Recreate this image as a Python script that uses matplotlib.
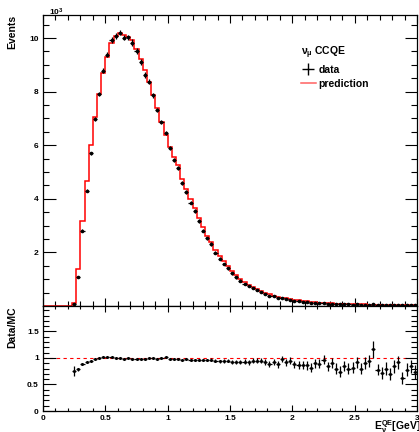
import numpy as np
import matplotlib.pyplot as plt
from matplotlib.lines import Line2D

plt.rcParams['font.family'] = ['Liberation Sans', 'DejaVu Sans']
plt.rcParams['font.weight'] = 'bold'
plt.rcParams['mathtext.fontset'] = 'custom'
plt.rcParams['mathtext.rm'] = 'Liberation Sans:bold'
plt.rcParams['mathtext.it'] = 'Liberation Sans:bold'
plt.rcParams['mathtext.bf'] = 'Liberation Sans:bold'

# -----------------------------
# values (90 bins of 1/30 GeV, 0 - 3 GeV)
# -----------------------------
edges = np.linspace(0, 3, 91)

# prediction in units of 10^3 events
prediction = [
    0, 0, 0, 0, 0, 0, 0, 0.12, 1.37, 3.19,
    4.67, 6.00, 7.04, 7.91, 8.69, 9.29, 9.83, 10.08, 10.20, 10.12,
    10.03, 9.93, 9.60, 9.20, 8.80, 8.37, 7.86, 7.39, 6.86, 6.40,
    5.94, 5.55, 5.25, 4.75, 4.35, 3.98, 3.64, 3.30, 2.93, 2.63,
    2.38, 2.10, 1.87, 1.67, 1.48, 1.31, 1.15, 1.02, 0.90, 0.80,
    0.71, 0.63, 0.56, 0.50, 0.44, 0.39, 0.35, 0.31, 0.28, 0.25,
    0.23, 0.21, 0.19, 0.17, 0.155, 0.14, 0.125, 0.115, 0.105, 0.095,
    0.088, 0.082, 0.077, 0.072, 0.067, 0.063, 0.060, 0.057, 0.054, 0.052,
    0.050, 0.048, 0.046, 0.044, 0.042, 0.041, 0.040, 0.039, 0.038, 0.037,
]

# data / prediction (empty bins -> nan)
ratio = [
    np.nan, np.nan, np.nan, np.nan, np.nan, np.nan, np.nan, 0.75, 0.79, 0.88,
    0.92, 0.95, 0.99, 1.00, 1.01, 1.01, 1.01, 1.00, 1.00, 0.99,
    1.00, 0.99, 0.99, 0.99, 0.98, 1.00, 1.00, 0.99, 1.00, 1.01,
    0.99, 0.98, 0.98, 0.97, 0.98, 0.97, 0.97, 0.96, 0.96, 0.96,
    0.97, 0.95, 0.94, 0.94, 0.95, 0.93, 0.93, 0.93, 0.93, 0.92,
    0.95, 0.95, 0.95, 0.93, 0.89, 0.92, 0.88, 0.98, 0.92, 0.95,
    0.88, 0.87, 0.87, 0.86, 0.82, 0.90, 0.89, 0.97, 0.84, 0.91,
    0.80, 0.74, 0.85, 0.80, 0.82, 0.92, 0.80, 0.91, 0.94, 1.16,
    0.78, 0.72, 0.80, 0.70, 0.84, 0.92, 0.62, 0.78, 0.84, 0.74,
]

ratio_err = [
    0, 0, 0, 0, 0, 0, 0, 0.09, 0.03, 0.02,
    0.012, 0.01, 0.01, 0.01, 0.01, 0.01, 0.01, 0.01, 0.01, 0.01,
    0.01, 0.012, 0.012, 0.012, 0.012, 0.012, 0.012, 0.012, 0.012, 0.012,
    0.013, 0.014, 0.015, 0.016, 0.017, 0.018, 0.02, 0.021, 0.022, 0.024,
    0.026, 0.028, 0.03, 0.032, 0.034, 0.036, 0.038, 0.04, 0.042, 0.045,
    0.048, 0.05, 0.052, 0.055, 0.058, 0.06, 0.062, 0.065, 0.068, 0.07,
    0.072, 0.075, 0.078, 0.08, 0.082, 0.085, 0.088, 0.09, 0.092, 0.095,
    0.098, 0.1, 0.1, 0.1, 0.105, 0.105, 0.11, 0.11, 0.11, 0.16,
    0.11, 0.115, 0.115, 0.12, 0.12, 0.12, 0.12, 0.125, 0.125, 0.13,
]

centers = 0.5 * (edges[:-1] + edges[1:])
half_w = 0.5 * (edges[1] - edges[0])
pred = np.array(prediction)
rat = np.array(ratio)
rerr = np.array(ratio_err)
data = pred * rat
data_err = pred * rerr

# -----------------------------
# figure layout (ROOT-like two pads)
# -----------------------------
W, H = 419, 432
fig = plt.figure(figsize=(W / 100, H / 100), dpi=100)
ax1 = fig.add_axes([43 / W, 1 - 306 / H, 374 / W, 291 / H])
ax2 = fig.add_axes([43 / W, 1 - 411 / H, 374 / W, 105 / H], sharex=ax1)

# top pad
ax1.stairs(pred, edges, color='red', lw=1.1, zorder=2)
ok = ~np.isnan(rat)
ax1.errorbar(centers[ok], data[ok], xerr=half_w, yerr=data_err[ok], fmt='o',
             ms=1.6, color='black', elinewidth=0.9, capsize=0, zorder=3)
ax1.set_xlim(0, 3)
ax1.set_ylim(0, 10.86)
ax1.set_yticks([2, 4, 6, 8, 10])
ax1.set_yticks(np.arange(0.5, 10.9, 0.5), minor=True)
ax1.set_xticks(np.arange(0, 3.01, 0.5))
ax1.set_xticks(np.arange(0, 3.01, 0.1), minor=True)
ax1.tick_params(which='both', direction='in', top=True, right=True,
                labelbottom=False, labelsize=6, width=0.8, pad=3)
ax1.tick_params(axis='y', which='major', length=9)
ax1.tick_params(axis='y', which='minor', length=4.5)
ax1.tick_params(axis='x', which='major', length=5.5)
ax1.tick_params(axis='x', which='minor', length=3.5)
ax1.set_ylabel('Events', fontsize=7.5, fontweight='bold',
               ha='right', va='center')
ax1.yaxis.set_label_coords(-31 / 374, 1.0)
for s in ax1.spines.values():
    s.set_linewidth(0.9)

fig.text(49 / W, 1 - 15 / H, r'10$^{3}$', fontsize=6, fontweight='bold')

# legend
h_data = Line2D([], [], color='black', marker='+', ms=8, mew=1.0, ls='none')
h_pred = Line2D([], [], color='#ff6060', lw=1.1)
leg = ax1.legend([h_data, h_pred], ['data', 'prediction'],
                 title=r'$\nu_{\mu}$ CCQE', loc='upper left',
                 bbox_to_anchor=(0.675, 0.917), frameon=False,
                 fontsize=7.5, title_fontsize=7.5, handlelength=1.5,
                 handletextpad=0.2, labelspacing=0.4, borderpad=0,
                 alignment='left')

# bottom pad
ax2.axhline(1.0, color='red', ls=(0, (3, 3)), lw=0.8, zorder=1)
ax2.errorbar(centers[ok], rat[ok], xerr=half_w, yerr=rerr[ok], fmt='o',
             ms=1.2, color='black', elinewidth=0.9, capsize=0, zorder=3)
ax2.set_ylim(0, 1.98)
ax2.set_yticks([0, 0.5, 1, 1.5])
ax2.set_yticklabels(['0', '0.5', '1', '1.5'])
ax2.set_yticks(np.arange(0, 1.99, 0.1), minor=True)
ax2.set_xticks(np.arange(0, 3.01, 0.5))
ax2.set_xticklabels(['0', '0.5', '1', '1.5', '2', '2.5', '3'])
ax2.set_xticks(np.arange(0, 3.01, 0.1), minor=True)
ax2.tick_params(which='both', direction='in', top=True, right=True,
                labelsize=6, width=0.8, pad=3)
ax2.tick_params(axis='y', which='major', length=9)
ax2.tick_params(axis='y', which='minor', length=4.5)
ax2.tick_params(axis='x', which='major', length=4.5)
ax2.tick_params(axis='x', which='minor', length=2.5)
ax2.set_ylabel('Data/MC', fontsize=7.5, fontweight='bold',
               ha='right', va='center')
ax2.yaxis.set_label_coords(-31 / 374, 1.0)
for s in ax2.spines.values():
    s.set_linewidth(0.9)

fig.text(421 / W, 1 - 430 / H, r'E$_{\nu}^{QE}$[GeV]', fontsize=7.5,
         fontweight='bold', ha='right', va='baseline')

fig.savefig('out.png', dpi=100)
